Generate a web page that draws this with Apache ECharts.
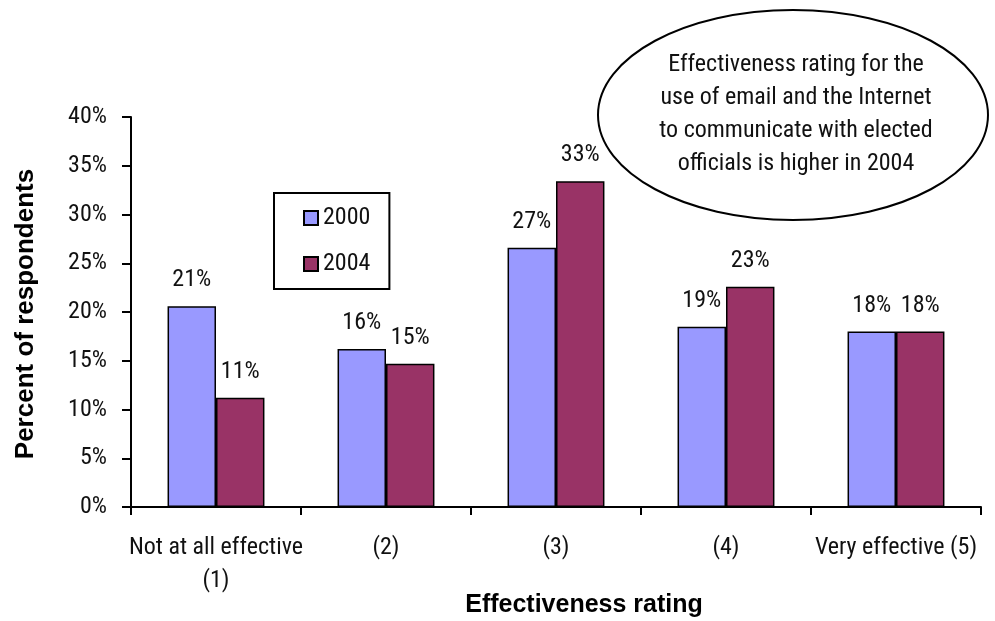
<!DOCTYPE html>
<html>
<head>
<meta charset="utf-8">
<script src="https://cdn.jsdelivr.net/npm/echarts@6/dist/echarts.min.js"></script>
<style>
html,body{margin:0;padding:0;background:#fff;}
#chart{width:995px;height:621px;}
</style>
</head>
<body>
<div id="chart"></div>
<script>
const categories = ['Not at all effective\n(1)', '(2)', '(3)', '(4)', 'Very effective (5)'];
const seriesNames = ['2000', '2004'];
const values2000 = [20.6, 16.2, 26.6, 18.5, 18.0];
const values2004 = [11.2, 14.7, 33.4, 22.6, 18.0];
const yTicks = [0, 5, 10, 15, 20, 25, 30, 35, 40];
const xTitle = 'Effectiveness rating';
const yTitle = 'Percent of respondents';
const noteLines = ['Effectiveness rating for the', 'use of email and the Internet', 'to communicate with elected', 'officials is higher in 2004'];

const NARROW = "'Roboto Condensed', 'Liberation Sans Narrow', 'DejaVu Sans Condensed', sans-serif";
const BOLD = "'Liberation Sans', Arial, sans-serif";

const chart = echarts.init(document.getElementById('chart'), null, {renderer: 'canvas'});

const labelCfg = {
  show: true,
  position: 'top',
  distance: 14,
  color: '#111',
  fontFamily: NARROW,
  fontSize: 24,
  formatter: p => Math.round(p.value) + '%'
};

chart.setOption({
  animation: false,
  backgroundColor: '#fff',
  grid: {left: 131, right: 14, top: 117, bottom: 114, containLabel: false},
  legend: {
    orient: 'vertical',
    left: 274,
    top: 193,
    data: seriesNames,
    icon: 'rect',
    itemWidth: 14,
    itemHeight: 14,
    itemGap: 22,
    padding: [13, 19, 13, 29],
    borderColor: '#000',
    borderWidth: 2,
    borderRadius: 0,
    backgroundColor: '#fff',
    itemStyle: {borderColor: '#000', borderWidth: 2},
    textStyle: {fontFamily: NARROW, fontSize: 24, color: '#111'}
  },
  xAxis: {
    type: 'category',
    data: categories,
    axisLine: {lineStyle: {color: '#000', width: 2}},
    axisTick: {show: true, length: 8, lineStyle: {color: '#000', width: 2}},
    axisLabel: {
      interval: 0,
      margin: 24,
      color: '#111',
      fontFamily: NARROW,
      fontSize: 24,
      lineHeight: 33
    },
    splitLine: {show: false}
  },
  yAxis: {
    type: 'value',
    min: yTicks[0],
    max: yTicks[yTicks.length - 1],
    interval: 5,
    axisLine: {show: true, lineStyle: {color: '#000', width: 2}},
    axisTick: {show: true, length: 9, lineStyle: {color: '#000', width: 2}},
    axisLabel: {
      margin: 24,
      color: '#111',
      fontFamily: NARROW,
      fontSize: 24,
      formatter: v => v + '%'
    },
    splitLine: {show: false}
  },
  series: [
    {
      name: seriesNames[0],
      type: 'bar',
      data: values2000,
      barGap: '0%',
      barCategoryGap: '43%',
      itemStyle: {color: '#9999FF', borderColor: '#000', borderWidth: 1.5},
      label: labelCfg
    },
    {
      name: seriesNames[1],
      type: 'bar',
      data: values2004,
      barGap: '0%',
      barCategoryGap: '43%',
      itemStyle: {color: '#993366', borderColor: '#000', borderWidth: 1.5},
      label: labelCfg
    }
  ],
  graphic: [
    {
      type: 'ellipse',
      shape: {cx: 793, cy: 115, rx: 195, ry: 105},
      style: {fill: '#fff', stroke: '#000', lineWidth: 2},
      z: 10
    },
    {
      type: 'text',
      x: 796,
      y: 114,
      z: 11,
      style: {
        text: noteLines.join('\n'),
        fill: '#111',
        font: "24px " + NARROW,
        lineHeight: 33,
        align: 'center',
        verticalAlign: 'middle'
      }
    },
    {
      type: 'text',
      x: 584,
      y: 605,
      style: {
        text: xTitle,
        fill: '#000',
        font: "bold 25px " + BOLD,
        align: 'center',
        verticalAlign: 'middle'
      }
    },
    {
      type: 'text',
      x: 26,
      y: 314,
      rotation: Math.PI / 2,
      style: {
        text: yTitle,
        fill: '#000',
        font: "bold 26px " + BOLD,
        align: 'center',
        verticalAlign: 'middle'
      }
    }
  ]
});
</script>
</body>
</html>
